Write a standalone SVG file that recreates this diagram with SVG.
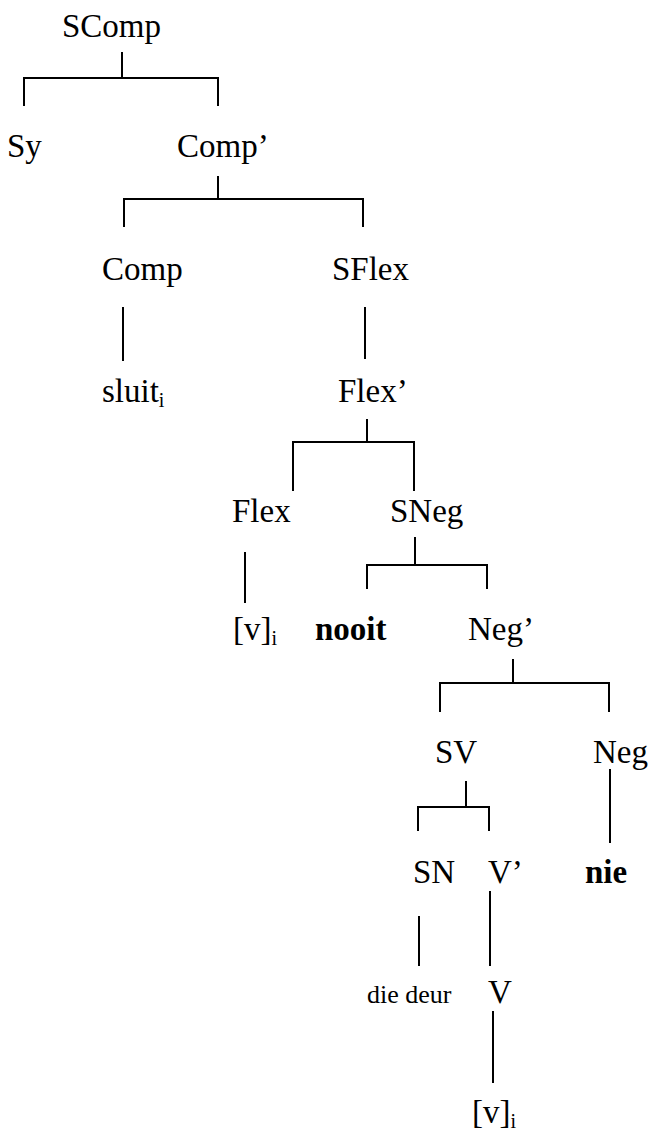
<svg xmlns="http://www.w3.org/2000/svg" width="651" height="1131" viewBox="0 0 651 1131">
<style>
text{font-family:"Liberation Serif","Times New Roman",serif;font-size:33px;fill:#000}
.b{font-weight:bold}
.s{font-size:26px}
.sub{font-size:20px}
#connectors line{stroke:#000;stroke-width:2;stroke-linecap:square}
</style>
<rect width="651" height="1131" fill="#fff"/>
<g id="connectors">
<line x1="122" y1="53" x2="122" y2="78"/>
<line x1="24" y1="78" x2="218" y2="78"/>
<line x1="24" y1="78" x2="24" y2="105"/>
<line x1="218" y1="78" x2="218" y2="105"/>
<line x1="218" y1="177" x2="218" y2="199"/>
<line x1="124" y1="199" x2="363" y2="199"/>
<line x1="124" y1="199" x2="124" y2="226"/>
<line x1="363" y1="199" x2="363" y2="226"/>
<line x1="123" y1="308" x2="123" y2="360"/>
<line x1="365" y1="308" x2="365" y2="358"/>
<line x1="367" y1="420" x2="367" y2="442"/>
<line x1="293" y1="442" x2="414" y2="442"/>
<line x1="293" y1="442" x2="293" y2="490"/>
<line x1="414" y1="442" x2="414" y2="490"/>
<line x1="245" y1="553" x2="245" y2="602"/>
<line x1="415" y1="538" x2="415" y2="565"/>
<line x1="367" y1="565" x2="487" y2="565"/>
<line x1="367" y1="565" x2="367" y2="588"/>
<line x1="487" y1="565" x2="487" y2="588"/>
<line x1="513" y1="660" x2="513" y2="683"/>
<line x1="440" y1="683" x2="609" y2="683"/>
<line x1="440" y1="683" x2="440" y2="711"/>
<line x1="609" y1="683" x2="609" y2="711"/>
<line x1="466" y1="782" x2="466" y2="807"/>
<line x1="418" y1="807" x2="489" y2="807"/>
<line x1="418" y1="807" x2="418" y2="830"/>
<line x1="489" y1="807" x2="489" y2="830"/>
<line x1="610" y1="770" x2="610" y2="842"/>
<line x1="419" y1="917" x2="419" y2="965"/>
<line x1="490" y1="892" x2="490" y2="965"/>
<line x1="493" y1="1012" x2="493" y2="1082"/>
</g>
<g id="n-scomp"><text x="62" y="37">SComp</text></g>
<g id="n-sy"><text x="7" y="157">Sy</text></g>
<g id="n-compbar"><text x="177" y="157">Comp’</text></g>
<g id="n-comp"><text x="102" y="280">Comp</text></g>
<g id="n-sflex"><text x="332" y="280">SFlex</text></g>
<g id="n-sluit"><text x="102" y="402">sluit<tspan class="sub" dy="5">i</tspan></text></g>
<g id="n-flexbar"><text x="338" y="402">Flex’</text></g>
<g id="n-flex"><text x="232" y="522">Flex</text></g>
<g id="n-sneg"><text x="390" y="522">SNeg</text></g>
<g id="n-v1"><text x="233" y="640">[v]<tspan class="sub" dy="5">i</tspan></text></g>
<g id="n-nooit"><text class="b" x="315" y="640">nooit</text></g>
<g id="n-negbar"><text x="468" y="640">Neg’</text></g>
<g id="n-sv"><text x="435" y="763">SV</text></g>
<g id="n-neg"><text x="593" y="763">Neg</text></g>
<g id="n-sn"><text x="413" y="883">SN</text></g>
<g id="n-vbar"><text x="488" y="883">V’</text></g>
<g id="n-nie"><text class="b" x="585" y="883">nie</text></g>
<g id="n-diedeur"><text class="s" x="367" y="1003">die deur</text></g>
<g id="n-v"><text x="488" y="1003">V</text></g>
<g id="n-v2"><text x="472" y="1123">[v]<tspan class="sub" dy="5">i</tspan></text></g>
</svg>
